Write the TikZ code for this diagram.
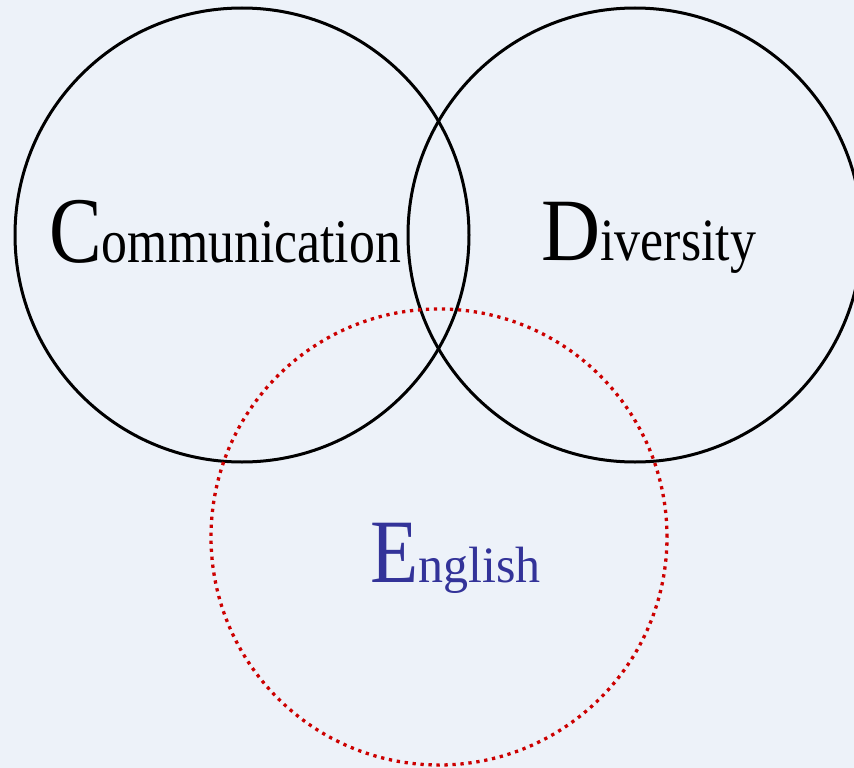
\documentclass[tikz,border=0pt]{standalone}
\usepackage{fontspec}
\setmainfont{Liberation Serif}
\definecolor{bgc}{HTML}{EDF2F9}
\definecolor{engc}{HTML}{333399}
\definecolor{redc}{HTML}{CC0000}
\newcommand{\txtpart}[3]{\scalebox{#2}[1]{\fontsize{#1}{#1}\selectfont #3}}
\tikzset{
  setc/.style={circle, draw=black, line width=3pt, inner sep=0pt, minimum size=454pt},
  engcirc/.style={circle, draw=redc, line width=3.3pt, dash pattern=on 3.3pt off 4.7pt, inner sep=0pt, minimum size=456pt},
  lbl/.style={inner sep=0pt, anchor=base west}
}
\begin{document}
\begin{tikzpicture}[x=1pt, y=-1pt]
\useasboundingbox (0,0) rectangle (854,768);
\fill[bgc] (0,0) rectangle (854,768);
\clip (0,0) rectangle (854,768);
\node[setc] (comm) at (242,235) {};
\node[setc] (div) at (635,235) {};
\node[engcirc] (eng) at (439,537) {};
\node[lbl] (tcomm) at (49,262) {\txtpart{94}{0.84}{C}\txtpart{62}{0.835}{ommunication}};
\node[lbl] (tdiv) at (541,260) {\txtpart{89}{0.92}{D}\txtpart{60}{0.865}{iversity}};
\node[lbl, text=engc] (teng) at (370,582) {\txtpart{90.6}{0.87}{E}\txtpart{51}{0.98}{nglish}};
\end{tikzpicture}
\end{document}
